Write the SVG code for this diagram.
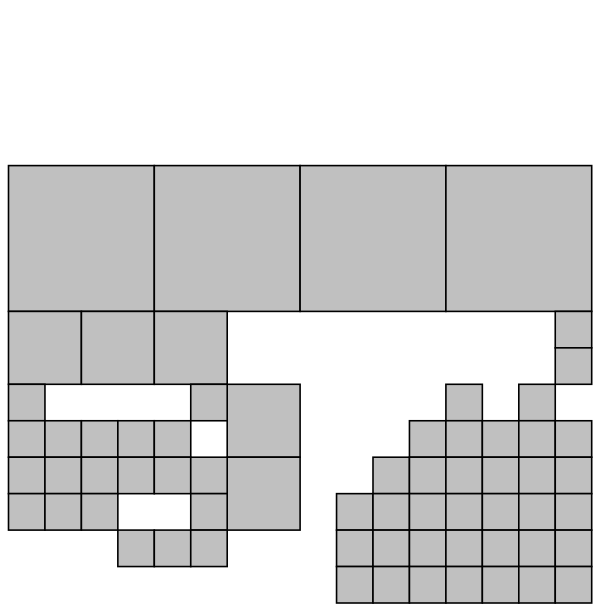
<svg xmlns="http://www.w3.org/2000/svg" width="601" height="613" viewBox="0 0 601 613">
<style>
rect.c{fill:#c0c0c0;stroke:#000;stroke-width:1.6}
</style>
<rect x="0" y="0" width="601" height="613" fill="#fff"/>
<g id="big">
<rect class="c" x="8.5" y="165.6" width="145.8" height="145.8"/>
<rect class="c" x="154.3" y="165.6" width="145.8" height="145.8"/>
<rect class="c" x="300.1" y="165.6" width="145.8" height="145.8"/>
<rect class="c" x="445.9" y="165.6" width="145.8" height="145.8"/>
</g>
<g id="medium">
<rect class="c" x="8.5" y="311.4" width="72.9" height="72.9"/>
<rect class="c" x="81.4" y="311.4" width="72.9" height="72.9"/>
<rect class="c" x="154.3" y="311.4" width="72.9" height="72.9"/>
<rect class="c" x="227.2" y="384.3" width="72.9" height="72.9"/>
<rect class="c" x="227.2" y="457.2" width="72.9" height="72.9"/>
</g>
<g id="right-column">
<rect class="c" x="555.25" y="311.4" width="36.45" height="36.45"/>
<rect class="c" x="555.25" y="347.85" width="36.45" height="36.45"/>
</g>
<g id="left-cluster">
<rect class="c" x="8.5" y="384.3" width="36.45" height="36.45"/>
<rect class="c" x="190.75" y="384.3" width="36.45" height="36.45"/>
<rect class="c" x="8.5" y="420.75" width="36.45" height="36.45"/>
<rect class="c" x="44.95" y="420.75" width="36.45" height="36.45"/>
<rect class="c" x="81.4" y="420.75" width="36.45" height="36.45"/>
<rect class="c" x="117.85" y="420.75" width="36.45" height="36.45"/>
<rect class="c" x="154.3" y="420.75" width="36.45" height="36.45"/>
<rect class="c" x="8.5" y="457.2" width="36.45" height="36.45"/>
<rect class="c" x="44.95" y="457.2" width="36.45" height="36.45"/>
<rect class="c" x="81.4" y="457.2" width="36.45" height="36.45"/>
<rect class="c" x="117.85" y="457.2" width="36.45" height="36.45"/>
<rect class="c" x="154.3" y="457.2" width="36.45" height="36.45"/>
<rect class="c" x="190.75" y="457.2" width="36.45" height="36.45"/>
<rect class="c" x="8.5" y="493.65" width="36.45" height="36.45"/>
<rect class="c" x="44.95" y="493.65" width="36.45" height="36.45"/>
<rect class="c" x="81.4" y="493.65" width="36.45" height="36.45"/>
<rect class="c" x="190.75" y="493.65" width="36.45" height="36.45"/>
<rect class="c" x="117.85" y="530.1" width="36.45" height="36.45"/>
<rect class="c" x="154.3" y="530.1" width="36.45" height="36.45"/>
<rect class="c" x="190.75" y="530.1" width="36.45" height="36.45"/>
</g>
<g id="right-cluster">
<rect class="c" x="445.9" y="384.3" width="36.45" height="36.45"/>
<rect class="c" x="518.8" y="384.3" width="36.45" height="36.45"/>
<rect class="c" x="409.45" y="420.75" width="36.45" height="36.45"/>
<rect class="c" x="445.9" y="420.75" width="36.45" height="36.45"/>
<rect class="c" x="482.35" y="420.75" width="36.45" height="36.45"/>
<rect class="c" x="518.8" y="420.75" width="36.45" height="36.45"/>
<rect class="c" x="555.25" y="420.75" width="36.45" height="36.45"/>
<rect class="c" x="373" y="457.2" width="36.45" height="36.45"/>
<rect class="c" x="409.45" y="457.2" width="36.45" height="36.45"/>
<rect class="c" x="445.9" y="457.2" width="36.45" height="36.45"/>
<rect class="c" x="482.35" y="457.2" width="36.45" height="36.45"/>
<rect class="c" x="518.8" y="457.2" width="36.45" height="36.45"/>
<rect class="c" x="555.25" y="457.2" width="36.45" height="36.45"/>
<rect class="c" x="336.55" y="493.65" width="36.45" height="36.45"/>
<rect class="c" x="373" y="493.65" width="36.45" height="36.45"/>
<rect class="c" x="409.45" y="493.65" width="36.45" height="36.45"/>
<rect class="c" x="445.9" y="493.65" width="36.45" height="36.45"/>
<rect class="c" x="482.35" y="493.65" width="36.45" height="36.45"/>
<rect class="c" x="518.8" y="493.65" width="36.45" height="36.45"/>
<rect class="c" x="555.25" y="493.65" width="36.45" height="36.45"/>
<rect class="c" x="336.55" y="530.1" width="36.45" height="36.45"/>
<rect class="c" x="373" y="530.1" width="36.45" height="36.45"/>
<rect class="c" x="409.45" y="530.1" width="36.45" height="36.45"/>
<rect class="c" x="445.9" y="530.1" width="36.45" height="36.45"/>
<rect class="c" x="482.35" y="530.1" width="36.45" height="36.45"/>
<rect class="c" x="518.8" y="530.1" width="36.45" height="36.45"/>
<rect class="c" x="555.25" y="530.1" width="36.45" height="36.45"/>
<rect class="c" x="336.55" y="566.55" width="36.45" height="36.45"/>
<rect class="c" x="373" y="566.55" width="36.45" height="36.45"/>
<rect class="c" x="409.45" y="566.55" width="36.45" height="36.45"/>
<rect class="c" x="445.9" y="566.55" width="36.45" height="36.45"/>
<rect class="c" x="482.35" y="566.55" width="36.45" height="36.45"/>
<rect class="c" x="518.8" y="566.55" width="36.45" height="36.45"/>
<rect class="c" x="555.25" y="566.55" width="36.45" height="36.45"/>
</g>
</svg>
